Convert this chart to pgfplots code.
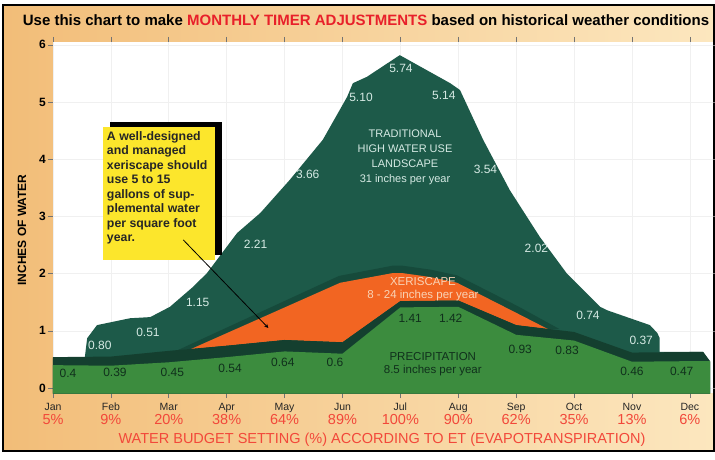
\documentclass[border=0pt]{standalone}
\usepackage{fontspec}
\setmainfont{Liberation Sans}
\usepackage{pgfplots}
\pgfplotsset{compat=1.18}
\definecolor{bgL}{HTML}{F2BD78}
\definecolor{bgR}{HTML}{FCE7BF}
\definecolor{trad}{HTML}{1D5A49}
\definecolor{xband}{HTML}{164A3B}
\definecolor{pband}{HTML}{143F2F}
\definecolor{precip}{HTML}{3C8C3E}
\definecolor{xeri}{HTML}{F26522}
\definecolor{titlered}{HTML}{E8202A}
\definecolor{pctred}{HTML}{F2483A}
\definecolor{lbl}{HTML}{D6EAE4}
\definecolor{plbl}{HTML}{10301C}
\definecolor{xlbl}{HTML}{F9D3B6}
\definecolor{callout}{HTML}{FCE62C}
\newcommand{\mlab}[2]{{\fontsize{10.5}{14}\selectfont\color{black!85}#1}\\{\fontsize{14.5}{14}\selectfont\color{pctred}#2\%}}
\begin{document}
\begin{tikzpicture}[x=1pt,y=1pt]
\useasboundingbox (-53,-66) rectangle (662,393);
\fill[white] (-53,-66) rectangle (662,393);
\shade[left color=bgL, right color=bgR] (-50,-58) rectangle (661,388);
\draw[black, line width=1.5pt] (-50,-58) rectangle (661,388);
\begin{axis}[
  at={(0,0)}, anchor=south west, scale only axis,
  width=660pt, height=351pt,
  xmin=0, xmax=11.4, ymin=-0.087, ymax=6.05,
  axis background/.style={fill=white},
  axis line style={draw=none},
  grid=major, grid style={draw=black!6, line width=0.6pt},
  xtick={0,...,11},
  xticklabels={\mlab{Jan}{5},\mlab{Feb}{9},\mlab{Mar}{20},\mlab{Apr}{38},\mlab{May}{64},\mlab{Jun}{89},\mlab{Jul}{100},\mlab{Aug}{90},\mlab{Sep}{62},\mlab{Oct}{35},\mlab{Nov}{13},\mlab{Dec}{6}},
  xticklabel style={align=center, inner sep=1pt, yshift=-4pt, font=\fontsize{12}{14}\selectfont},
  ytick={0,...,6},
  yticklabel style={font=\bfseries\fontsize{12}{12}\selectfont, inner sep=2pt},
  /pgf/number format/assume math mode=true,
  tick align=outside, major tick length=5pt,
  tick style={draw=black!55, line width=0.6pt},
]
% traditional high water use landscape
\addplot[fill=trad, draw=none] coordinates {
 (0,0.52) (0.55,0.54) (0.59,0.87) (0.76,1.10) (1.33,1.22) (1.68,1.24) (2.02,1.42)
 (2.42,1.77) (2.66,2.01) (3.18,2.71) (3.58,3.06) (4.09,3.64) (4.66,4.34) (5.08,5.09)
 (5.18,5.33) (5.42,5.44) (5.99,5.82) (6.86,5.33) (7.03,5.21) (7.43,4.34) (7.89,3.46)
 (8.41,2.64) (8.87,2.01) (9.45,1.42) (9.57,1.36) (10.31,1.10) (10.44,0.96) (10.48,0.87)
 (10.48,0.63) (11.23,0.63) (11.35,0.45) (11.35,-0.1) (0,-0.1)};
% xeriscape slab
\addplot[fill=xband, draw=none] coordinates {
 (2.15,0.66) (4.94,1.96) (5.87,2.14) (6.03,2.14) (6.52,2.07) (6.98,1.97) (8.03,1.43) (8.75,1.03)
 (8.55,1.03) (8.01,1.31) (6.98,1.84) (6.52,1.94) (6.03,2.01) (5.87,2.01) (4.96,1.84) (2.38,0.68)};
% xeriscape
\addplot[fill=xeri, draw=none] coordinates {
 (2.38,0.68) (4.96,1.84) (5.87,2.01) (6.03,2.01) (6.52,1.94) (6.98,1.84) (8.01,1.31) (8.55,1.03)
 (8.0,1.10) (7,1.53) (6,1.52) (5,0.80) (4,0.84) (3,0.74)};
% precipitation slab
\addplot[fill=pband, draw=none] coordinates {
 (0,0.54) (1,0.55) (2,0.65) (3,0.74) (4,0.84) (5,0.80) (6,1.52) (7,1.53) (8,1.10) (9,0.98)
 (10,0.62) (11,0.63) (11.23,0.63) (11.35,0.47) (11.35,-0.1) (0,-0.1)};
% precipitation
\addplot[fill=precip, draw=none] coordinates {
 (0,0.4) (1,0.39) (2,0.45) (3,0.54) (4,0.64) (5,0.6) (6,1.41) (7,1.42) (8,0.93) (9,0.83)
 (10,0.46) (11,0.47) (11.35,0.47) (11.35,-0.1) (0,-0.1)};
% traditional labels
\begin{scope}[every node/.style={font=\fontsize{12}{12}\selectfont, text=lbl}]
\node at (axis cs:0.81,0.75) {0.80};
\node at (axis cs:1.64,0.98) {0.51};
\node at (axis cs:2.50,1.50) {1.15};
\node at (axis cs:3.50,2.52) {2.21};
\node at (axis cs:4.40,3.74) {3.66};
\node at (axis cs:5.32,5.08) {5.10};
\node at (axis cs:6.01,5.59) {5.74};
\node at (axis cs:6.75,5.12) {5.14};
\node at (axis cs:7.47,3.83) {3.54};
\node at (axis cs:8.35,2.45) {2.02};
\node at (axis cs:9.24,1.27) {0.74};
\node at (axis cs:10.16,0.84) {0.37};
\node[align=center, font=\fontsize{11}{15}\selectfont] at (axis cs:6.08,4.03) {TRADITIONAL\\HIGH WATER USE\\LANDSCAPE\\31 inches per year};
\end{scope}
% precipitation labels
\begin{scope}[every node/.style={font=\fontsize{12}{12}\selectfont, text=plbl}]
\node at (axis cs:0.26,0.26) {0.4};
\node at (axis cs:1.07,0.28) {0.39};
\node at (axis cs:2.06,0.28) {0.45};
\node at (axis cs:3.06,0.35) {0.54};
\node at (axis cs:3.97,0.45) {0.64};
\node at (axis cs:4.87,0.44) {0.6};
\node at (axis cs:6.17,1.22) {1.41};
\node at (axis cs:6.87,1.22) {1.42};
\node at (axis cs:8.07,0.68) {0.93};
\node at (axis cs:8.88,0.65) {0.83};
\node at (axis cs:10.0,0.30) {0.46};
\node at (axis cs:10.86,0.30) {0.47};
\node[align=center, font=\fontsize{11.5}{13}\selectfont] at (axis cs:6.56,0.42) {PRECIPITATION\\8.5 inches per year};
\end{scope}
\node[align=center, text=xlbl, font=\fontsize{11.5}{13}\selectfont] at (axis cs:6.39,1.72) {XERISCAPE\\8 - 24 inches per year};
% callout
\fill[black] (axis cs:0.98,2.33) rectangle (axis cs:2.92,4.65);
\node[fill=callout, anchor=north west, minimum width=112pt, minimum height=133pt, inner sep=0pt] (box) at (axis cs:0.86,4.56) {};
\node[anchor=north west, align=left, font=\bfseries\fontsize{12.3}{14.5}\selectfont, text=black!85, inner sep=0pt] at ([xshift=4pt,yshift=-4pt]box.north west) {A well-designed\\and managed\\xeriscape should\\use 5 to 15\\gallons of sup-\\plemental water\\per square foot\\year.};
\draw[-stealth, black, line width=0.8pt] (axis cs:2.25,2.59) -- (axis cs:3.72,1.05);
\end{axis}
\node[font=\bfseries\fontsize{15}{15}\selectfont] at (313,373) {Use this chart to make \textcolor{titlered}{MONTHLY TIMER ADJUSTMENTS} based on historical weather conditions};
\node[rotate=90, font=\bfseries\fontsize{12}{12}\selectfont] at (-31,163) {INCHES OF WATER};
\node[text=pctred, font=\fontsize{14.5}{14}\selectfont] at (329,-47) {WATER BUDGET SETTING (\%) ACCORDING TO ET (EVAPOTRANSPIRATION)};
\end{tikzpicture}
\end{document}
